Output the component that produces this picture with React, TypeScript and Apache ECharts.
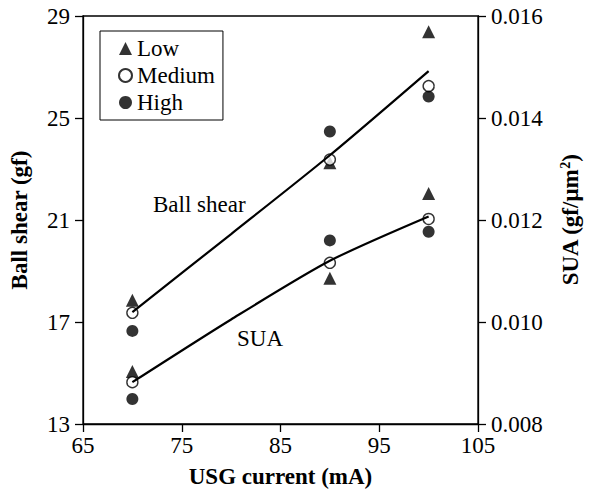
import React, { useEffect, useRef } from "react";
import * as echarts from "echarts";

const current = [70, 90, 100];
const shearLow = [17.85, 23.25, 28.38];
const shearMedium = [17.36, 23.37, 26.25];
const shearHigh = [16.65, 24.47, 25.84];
const suaLow = [0.00903, 0.01086, 0.01252];
const suaMedium = [0.00882, 0.01116, 0.01202];
const suaHigh = [0.00849, 0.0116, 0.01177];
const fitCurrent = [70, 80, 90, 100];
const shearFit = [17.39, 20.45, 23.54, 26.84];
const suaFit = [0.00882, 0.01005, 0.0112, 0.01207];
const levels = ["Low", "Medium", "High"];

const FONT = "Liberation Serif";
const FS = 23;

const pairs = (xs: number[], ys: number[]) => xs.map((x, i) => [x, ys[i]]);

const markerStyle: Record<string, any> = {
  Low: { symbol: "triangle", symbolSize: 13, itemStyle: { color: "#000" } },
  Medium: {
    symbol: "circle",
    symbolSize: 11,
    itemStyle: { color: "#fff", borderColor: "#000", borderWidth: 1.4 },
  },
  High: { symbol: "circle", symbolSize: 12, itemStyle: { color: "#000" } },
};

export default function App() {
  const ref = useRef<HTMLDivElement>(null);
  useEffect(() => {
    if (!ref.current) return;
    const chart = echarts.init(ref.current, null, { renderer: "svg" });
    const shearData: Record<string, number[]> = { Low: shearLow, Medium: shearMedium, High: shearHigh };
    const suaData: Record<string, number[]> = { Low: suaLow, Medium: suaMedium, High: suaHigh };
    const scatter: any[] = [];
    levels.forEach((lv) => {
      scatter.push({
        name: lv,
        type: "scatter",
        yAxisIndex: 0,
        data: pairs(current, shearData[lv]),
        ...markerStyle[lv],
        z: 3,
      });
      scatter.push({
        name: lv,
        type: "scatter",
        yAxisIndex: 1,
        data: pairs(current, suaData[lv]),
        ...markerStyle[lv],
        z: 3,
      });
    });
    const axisLine = { show: true, lineStyle: { color: "#000", width: 1.3 } };
    const tick = { show: true, inside: false, length: 8, lineStyle: { color: "#000", width: 1.3 } };
    const labelStyle = { fontFamily: FONT, fontSize: FS, color: "#000" };
    chart.setOption({
      animation: false,
      backgroundColor: "#fff",
      textStyle: { fontFamily: FONT, color: "#000" },
      grid: {
        left: 82,
        right: 108,
        top: 16,
        bottom: 65,
        show: true,
        borderColor: "#000",
        borderWidth: 1.3,
        containLabel: false,
      },
      legend: {
        data: levels,
        orient: "vertical",
        left: 100,
        top: 31,
        borderColor: "#000",
        borderWidth: 1,
        padding: [6, 8, 6, 18],
        itemGap: 4,
        itemWidth: 13,
        itemHeight: 13,
        textStyle: { fontFamily: FONT, fontSize: FS, color: "#000" },
      },
      xAxis: {
        type: "value",
        min: 65,
        max: 105,
        interval: 10,
        name: "USG current (mA)",
        nameLocation: "middle",
        nameGap: 41,
        nameTextStyle: { ...labelStyle, fontWeight: "bold" },
        axisLine,
        axisTick: tick,
        splitLine: { show: false },
        axisLabel: { ...labelStyle, margin: 10 },
      },
      yAxis: [
        {
          type: "value",
          min: 13,
          max: 29,
          interval: 4,
          name: "Ball shear (gf)",
          nameLocation: "middle",
          nameRotate: 90,
          nameGap: 52,
          nameTextStyle: { ...labelStyle, fontWeight: "bold" },
          axisLine,
          axisTick: tick,
          splitLine: { show: false },
          axisLabel: { ...labelStyle, margin: 13 },
        },
        {
          type: "value",
          position: "right",
          min: 0.008,
          max: 0.016,
          interval: 0.002,
          name: "{a|SUA (gf/μm}{s|2}{a|)}",
          nameLocation: "middle",
          nameRotate: 90,
          nameGap: 80,
          nameTextStyle: {
            ...labelStyle,
            fontWeight: "bold",
            rich: {
              a: { ...labelStyle, fontWeight: "bold", lineHeight: 25 },
              s: {
                fontFamily: FONT,
                fontSize: 14,
                fontWeight: "bold",
                color: "#000",
                verticalAlign: "top",
                lineHeight: 25,
                padding: [0, 0, 10, 0],
              },
            },
          },
          axisLine,
          axisTick: tick,
          splitLine: { show: false },
          axisLabel: {
            ...labelStyle,
            margin: 13,
            formatter: (v: number) => v.toFixed(3),
          },
        },
      ],
      graphic: [
        {
          type: "text",
          x: 153,
          y: 204,
          style: {
            text: "Ball shear",
            fontFamily: FONT,
            fontSize: FS,
            fill: "#000",
            textAlign: "left",
            textVerticalAlign: "middle",
          },
        },
        {
          type: "text",
          x: 237,
          y: 338,
          style: {
            text: "SUA",
            fontFamily: FONT,
            fontSize: FS,
            fill: "#000",
            textAlign: "left",
            textVerticalAlign: "middle",
          },
        },
      ],
      series: [
        {
          name: "Ball shear fit",
          type: "line",
          yAxisIndex: 0,
          smooth: 0.25,
          showSymbol: false,
          symbol: "none",
          data: pairs(fitCurrent, shearFit),
          lineStyle: { color: "#000", width: 2.2 },
          z: 4,
        },
        {
          name: "SUA fit",
          type: "line",
          yAxisIndex: 1,
          smooth: 0.25,
          showSymbol: false,
          symbol: "none",
          data: pairs(fitCurrent, suaFit),
          lineStyle: { color: "#000", width: 2.2 },
          z: 4,
        },
        ...scatter,
      ],
    });
    return () => chart.dispose();
  }, []);
  return <div ref={ref} style={{ width: 590, height: 493, position: "absolute", left: 0, top: 0 }} />;
}
